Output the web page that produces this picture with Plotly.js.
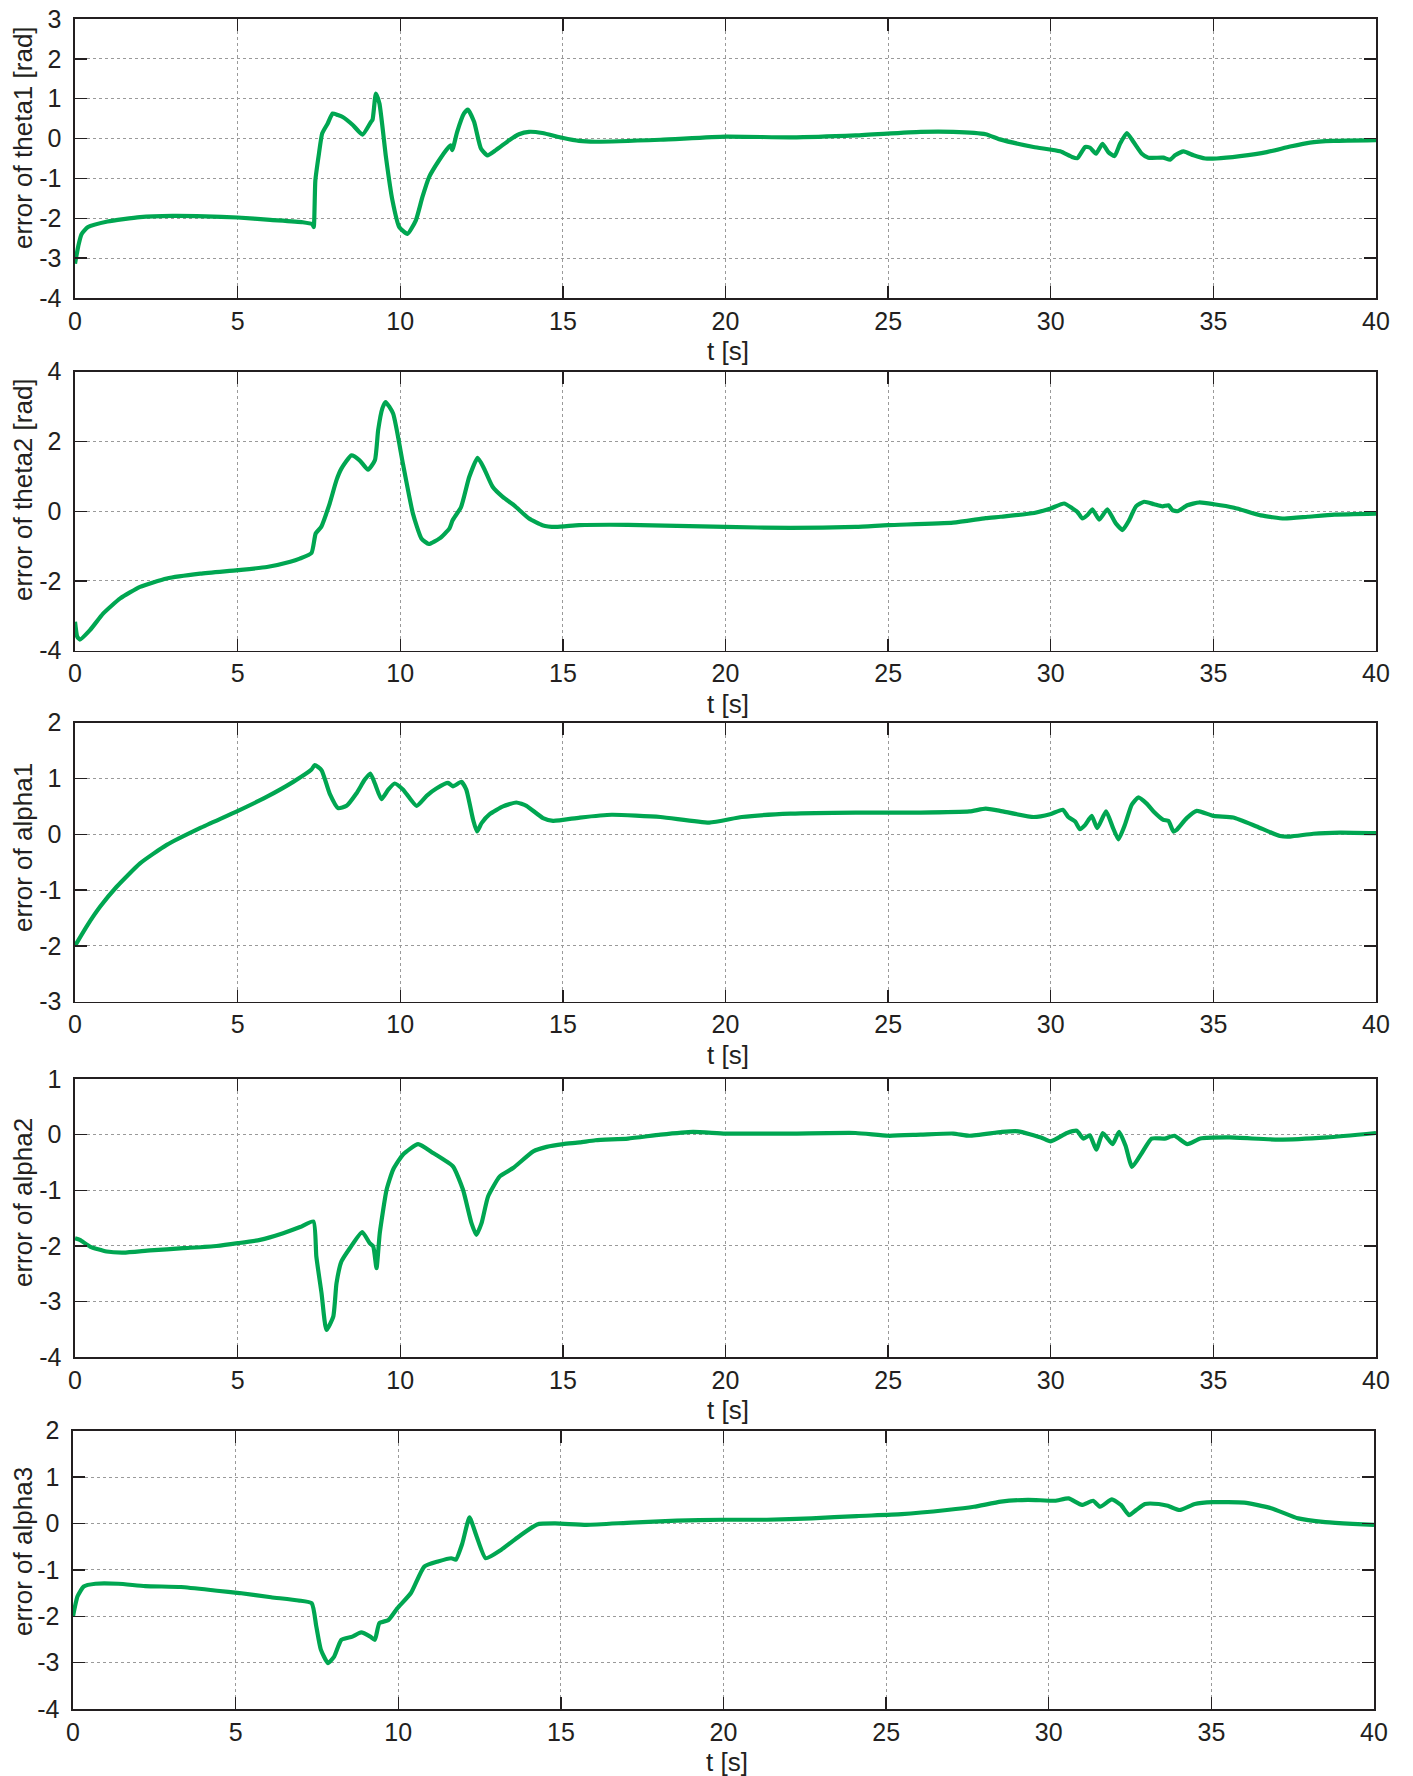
<!DOCTYPE html>
<html>
<head>
<meta charset="utf-8">
<script src="https://cdn.plot.ly/plotly-3.0.1.min.js"></script>
<style>html,body{margin:0;padding:0;background:#fff;}#chart{width:1413px;height:1776px;}</style>
</head>
<body>
<div id="chart"></div>
<script>
// ---------------- DATA ----------------
const tTheta1 = [0,0.1,0.2,0.4,1,2,3,4,5,6,7,7.3,7.34,7.39,7.5,7.6,7.77,7.92,8.08,8.23,8.54,8.84,9.1,9.15,9.25,9.36,9.56,9.76,9.97,10.22,10.48,10.68,10.89,11.19,11.45,11.55,11.6,11.75,11.96,12.08,12.27,12.48,12.68,12.94,13.35,13.65,13.96,14.37,14.98,15.5,16,18,20,22,24,26,27,28,28.44,29.47,30.29,30.65,30.82,31.06,31.21,31.39,31.59,31.77,31.96,32.13,32.34,32.54,32.8,33.0,33.46,33.67,33.82,34.08,34.39,34.75,35.1,35.82,36.64,37.36,37.97,38.69,40];
const theta1  = [-3.14,-2.7,-2.4,-2.22,-2.08,-1.97,-1.94,-1.95,-1.98,-2.04,-2.1,-2.15,-2.22,-1.05,-0.38,0.13,0.38,0.63,0.59,0.54,0.34,0.10,0.42,0.48,1.13,0.88,-0.46,-1.55,-2.22,-2.39,-2.05,-1.47,-0.96,-0.55,-0.25,-0.17,-0.29,0.17,0.63,0.73,0.42,-0.25,-0.42,-0.29,-0.04,0.11,0.17,0.14,0.02,-0.06,-0.08,-0.03,0.05,0.03,0.08,0.17,0.17,0.11,-0.02,-0.21,-0.32,-0.46,-0.49,-0.21,-0.23,-0.38,-0.13,-0.34,-0.44,-0.13,0.14,-0.08,-0.38,-0.48,-0.48,-0.53,-0.42,-0.32,-0.42,-0.5,-0.5,-0.44,-0.34,-0.2,-0.1,-0.06,-0.04];

const tTheta2 = [0,0.07,0.15,0.46,0.87,1.39,2.0,2.82,3.85,5,5.9,6.62,6.91,7.27,7.4,7.57,7.83,8.04,8.19,8.5,8.75,9.01,9.22,9.32,9.45,9.55,9.78,10.08,10.39,10.65,10.88,11.21,11.51,11.61,11.87,12.12,12.38,12.58,12.84,13.15,13.5,13.96,14.37,14.78,15.5,17,20,22,24,25,27,28,28.46,29.49,30,30.41,30.67,30.82,30.97,31.13,31.28,31.49,31.74,32.0,32.21,32.41,32.62,32.87,33.18,33.44,33.62,33.74,33.9,34.2,34.56,35.02,35.64,36.46,37.18,37.9,38.72,40];
const theta2  = [-3.17,-3.6,-3.68,-3.41,-2.93,-2.5,-2.17,-1.93,-1.79,-1.69,-1.6,-1.45,-1.36,-1.2,-0.64,-0.45,0.22,0.89,1.22,1.6,1.46,1.19,1.46,2.32,2.95,3.13,2.8,1.37,-0.07,-0.78,-0.94,-0.78,-0.5,-0.26,0.12,0.98,1.53,1.22,0.7,0.41,0.17,-0.21,-0.4,-0.45,-0.4,-0.39,-0.45,-0.48,-0.45,-0.4,-0.33,-0.2,-0.16,-0.05,0.08,0.22,0.08,-0.02,-0.21,-0.11,0.05,-0.24,0.05,-0.35,-0.54,-0.26,0.14,0.27,0.2,0.14,0.17,0.03,0,0.17,0.25,0.2,0.1,-0.12,-0.21,-0.16,-0.1,-0.07];

const tAlpha1 = [0,0.36,0.77,1.28,2.0,2.82,3.84,5.01,5.89,6.71,7.27,7.37,7.58,7.83,8.09,8.35,8.65,8.91,9.08,9.22,9.42,9.63,9.83,10.09,10.5,10.81,11.11,11.47,11.62,11.88,12.03,12.24,12.36,12.5,12.75,13.16,13.57,13.88,14.39,14.7,15.52,16.5,18,19.5,20.5,22,24,26,27.5,28,28.44,29.47,29.98,30.37,30.54,30.75,30.9,31.06,31.26,31.43,31.7,31.91,32.08,32.28,32.49,32.69,32.95,33.16,33.46,33.62,33.77,33.87,34.18,34.49,35.0,35.61,36.33,37.05,37.36,38.07,38.89,40];
const alpha1  = [-2.0,-1.65,-1.3,-0.94,-0.52,-0.19,0.11,0.42,0.67,0.94,1.16,1.24,1.15,0.73,0.47,0.51,0.73,0.98,1.09,0.91,0.63,0.8,0.91,0.8,0.51,0.69,0.82,0.92,0.86,0.94,0.8,0.26,0.05,0.2,0.36,0.5,0.57,0.51,0.29,0.24,0.3,0.35,0.31,0.21,0.31,0.37,0.39,0.39,0.41,0.46,0.42,0.31,0.36,0.44,0.31,0.23,0.09,0.17,0.33,0.11,0.41,0.12,-0.09,0.17,0.53,0.66,0.55,0.41,0.26,0.24,0.05,0.08,0.29,0.42,0.33,0.3,0.14,-0.03,-0.04,0.01,0.03,0.02];

const tAlpha2 = [0,0.15,0.46,0.97,1.49,2.31,3.33,4.35,5.01,5.69,6.4,6.92,7.33,7.42,7.58,7.73,7.94,8.04,8.19,8.45,8.83,9.06,9.17,9.27,9.37,9.58,9.78,10.08,10.55,11.01,11.62,11.93,12.19,12.34,12.5,12.7,13.06,13.47,14.09,14.5,15.01,15.52,16,17,18,19,20,22,24,25,26,27,27.5,28.5,29,29.7,30,30.5,30.8,31,31.2,31.4,31.6,31.9,32.1,32.3,32.5,32.8,33.1,33.5,33.8,34.2,34.6,35.5,37,38.5,40];
const alpha2  = [-1.86,-1.89,-2.01,-2.1,-2.12,-2.08,-2.04,-2.0,-1.95,-1.89,-1.77,-1.66,-1.56,-2.19,-2.85,-3.51,-3.27,-2.67,-2.28,-2.04,-1.75,-1.95,-2.01,-2.4,-1.77,-0.99,-0.63,-0.36,-0.17,-0.33,-0.57,-0.99,-1.59,-1.8,-1.59,-1.11,-0.75,-0.6,-0.3,-0.22,-0.17,-0.14,-0.1,-0.07,0.0,0.05,0.02,0.02,0.03,-0.02,0.0,0.02,-0.02,0.05,0.06,-0.05,-0.12,0.03,0.07,-0.07,-0.01,-0.27,0.03,-0.17,0.05,-0.2,-0.58,-0.33,-0.07,-0.07,-0.02,-0.17,-0.07,-0.05,-0.09,-0.05,0.03];

const tAlpha3 = [0,0.14,0.33,0.69,1.39,2.22,3.32,4.43,5.12,6.09,6.93,7.34,7.48,7.62,7.84,8.03,8.25,8.59,8.86,9.14,9.28,9.42,9.7,9.97,10.39,10.8,11.22,11.63,11.77,11.97,12.19,12.41,12.69,13.16,13.71,14.27,14.82,15.79,17.17,18.56,19.94,21.33,22.71,24.1,25.48,26.87,27.7,28.53,29.36,30.19,30.61,31.02,31.36,31.58,31.94,32.22,32.47,32.69,32.96,33.38,33.66,34.02,34.49,35.04,36.01,36.84,37.67,38.5,39.34,40];
const alpha3  = [-2.0,-1.57,-1.36,-1.3,-1.3,-1.35,-1.37,-1.45,-1.5,-1.59,-1.66,-1.72,-2.22,-2.72,-3.01,-2.87,-2.51,-2.44,-2.35,-2.44,-2.51,-2.15,-2.08,-1.83,-1.5,-0.93,-0.82,-0.75,-0.78,-0.43,0.13,-0.28,-0.75,-0.57,-0.28,-0.02,0.0,-0.03,0.02,0.06,0.08,0.08,0.11,0.16,0.2,0.29,0.36,0.47,0.51,0.49,0.54,0.4,0.49,0.36,0.52,0.4,0.18,0.29,0.42,0.42,0.38,0.29,0.42,0.46,0.45,0.33,0.11,0.03,-0.01,-0.03];

const xTickVals = [0,5,10,15,20,25,30,35,40];
const xTickText = ['0','5','10','15','20','25','30','35','40'];
const xTitle = 't [s]';
const yTitles = ['error of theta1 [rad]','error of theta2 [rad]','error of alpha1','error of alpha2','error of alpha3'];
const yTickVals = [
  [-4,-3,-2,-1,0,1,2,3],
  [-4,-2,0,2,4],
  [-3,-2,-1,0,1,2],
  [-4,-3,-2,-1,0,1],
  [-4,-3,-2,-1,0,1,2]
];
const yTickText = [
  ['-4','-3','-2','-1','0','1','2','3'],
  ['-4','-2','0','2','4'],
  ['-3','-2','-1','0','1','2'],
  ['-4','-3','-2','-1','0','1'],
  ['-4','-3','-2','-1','0','1','2']
];
const yRanges = [[-4,3],[-4,4],[-3,2],[-4,1],[-4,2]];

// ---------------- LAYOUT ----------------
const W = 1413, H = 1776;
const series = [[tTheta1,theta1],[tTheta2,theta2],[tAlpha1,alpha1],[tAlpha2,alpha2],[tAlpha3,alpha3]];
// panel frames in pixels: [left, right, top, bottom]
const frames = [[75,1376,19,298],[75,1376,371.7,650.7],[75,1376,722.7,1001.7],[75,1376,1079,1357.3],[73,1374,1430.7,1709]];
const yTitleCenters = [138,490,848,1203,1552];
const FONT = '"Liberation Sans", Arial, Helvetica, sans-serif';
const GREEN = '#00A651';
const INK = '#231f20';

const traces = [];
const layout = {
  width: W, height: H,
  margin: {l:0,r:0,t:0,b:0},
  paper_bgcolor: '#fff', plot_bgcolor: '#fff',
  showlegend: false,
  font: {family: FONT, size: 25, color: INK},
  annotations: []
};

series.forEach((s,i) => {
  const n = i===0 ? '' : String(i+1);
  traces.push({
    x: s[0], y: s[1], type: 'scatter', mode: 'lines',
    xaxis: 'x'+n, yaxis: 'y'+n,
    line: {color: GREEN, width: 4.2, shape: 'spline', smoothing: 0.5},
    hoverinfo: 'skip'
  });
  const f = frames[i];
  const common = {
    showline: true, linecolor: INK, linewidth: 1.6, mirror: 'allticks',
    ticks: 'inside', ticklen: 12, tickwidth: 1.4, tickcolor: INK,
    showgrid: true, gridcolor: '#9a9a9a', gridwidth: 1, griddash: 'dot',
    zeroline: false, fixedrange: true,
    tickfont: {family: FONT, size: 25, color: INK}
  };
  layout['xaxis'+n] = Object.assign({}, common, {
    domain: [f[0]/W, f[1]/W], anchor: 'y'+n,
    range: [0,40], tickmode: 'array', tickvals: xTickVals, ticktext: xTickText,
    ticklabelstandoff: 0
  });
  layout['yaxis'+n] = Object.assign({}, common, {
    domain: [1-f[3]/H, 1-f[2]/H], anchor: 'x'+n,
    range: yRanges[i], tickmode: 'array', tickvals: yTickVals[i], ticktext: yTickText[i],
    ticklabelstandoff: 7
  });
  layout.annotations.push({
    text: xTitle, xref: 'paper', yref: 'paper',
    x: ((f[0]+f[1])/2 + 3)/W, y: 1-(f[3]+53)/H,
    xanchor: 'center', yanchor: 'middle', showarrow: false,
    font: {family: FONT, size: 26, color: INK}
  });
  layout.annotations.push({
    text: yTitles[i], xref: 'paper', yref: 'paper',
    x: 23/W, y: 1-yTitleCenters[i]/H, textangle: -90,
    xanchor: 'center', yanchor: 'middle', showarrow: false,
    font: {family: FONT, size: 26, color: INK}
  });
});

Plotly.newPlot('chart', traces, layout, {displayModeBar: false, staticPlot: true});
</script>
</body>
</html>
